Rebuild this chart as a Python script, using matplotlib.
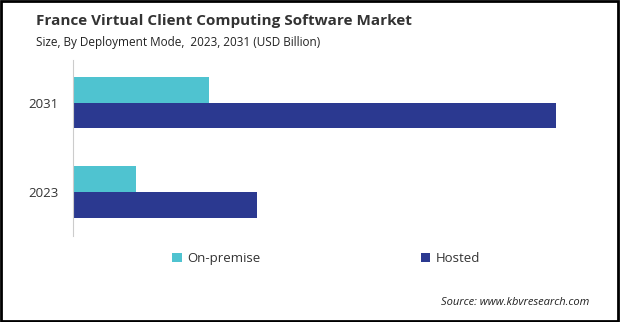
import matplotlib.pyplot as plt
from matplotlib.patches import Rectangle

# Valores estimados (USD Billion)
years = ['2023', '2031']
on_premise = [0.21, 0.45]
hosted = [0.61, 1.60]

c_on = '#4FC3D0'
c_host = '#2B3990'

plt.rcParams['font.family'] = ['Open Sans', 'DejaVu Sans']

fig = plt.figure(figsize=(6.2, 3.22), dpi=100)
ax = fig.add_axes([0.1177, 0.267, 0.85, 0.547])

pos = [0, 1]
h = 0.287
ax.barh([p + h / 2 for p in pos], on_premise, height=h, color=c_on, label='On-premise')
ax.barh([p - h / 2 for p in pos], hosted, height=h, color=c_host, label='Hosted')

ax.set_xlim(0, 1.746)
ax.set_ylim(-0.495, 1.483)
ax.set_yticks(pos)
ax.set_yticklabels(years, fontsize=9.5, color='#333333')
ax.tick_params(axis='y', length=0, pad=10.5)
ax.set_xticks([])
for s in ['top', 'right', 'bottom']:
    ax.spines[s].set_visible(False)
ax.spines['left'].set_color('#CCCCCC')

fig.text(0.058, 0.935, 'France Virtual Client Computing Software Market',
         fontsize=11, fontweight='bold', color='#333333', va='center')
fig.text(0.058, 0.868, 'Size, By Deployment Mode,  2023, 2031 (USD Billion)',
         fontsize=8.5, color='#222222', va='center')

leg = fig.legend(loc='center', bbox_to_anchor=(0.526, 0.197), ncol=2, frameon=False,
                 fontsize=9.5, handlelength=0.7, handleheight=0.7, columnspacing=12.2,
                 handletextpad=0.4)
for t in leg.get_texts():
    t.set_color('#333333')

fig.text(0.95, 0.06, 'Source: www.kbvresearch.com', fontsize=8, style='italic',
         color='#222222', ha='right', va='center')

fig.patches.append(Rectangle((0.002, 0.003), 0.995, 0.994, transform=fig.transFigure,
                             fill=False, edgecolor='black', linewidth=2))

fig.savefig('out.png', dpi=100)
